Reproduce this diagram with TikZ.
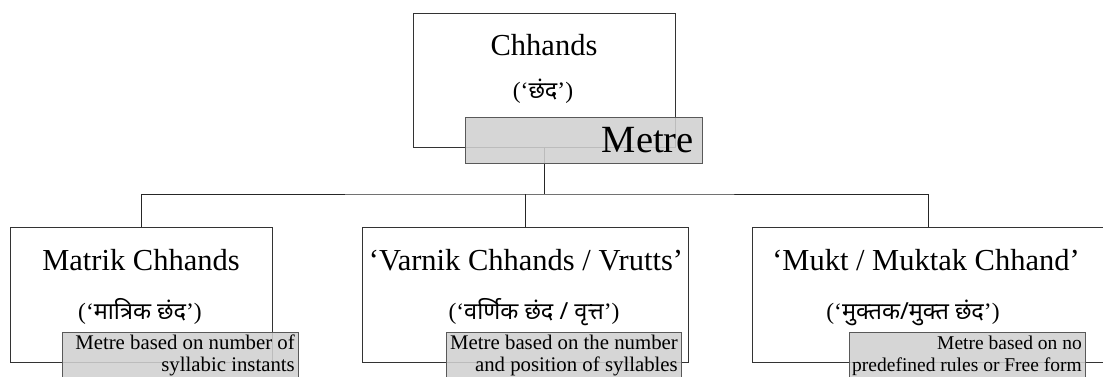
\documentclass[tikz,border=0pt]{standalone}
\usepackage{fontspec}
\setmainfont{Liberation Serif}
\newfontfamily\deva[Script=Devanagari]{Noto Sans}
\begin{document}
\begin{tikzpicture}[x=1pt,y=-1pt,
  box/.style={draw=black!80, line width=0.9pt, fill=none, inner sep=0pt, outer sep=0pt},
  callout/.style={draw=black!65, line width=0.9pt, fill={rgb,255:red,208;green,208;blue,208}, fill opacity=0.88, inner sep=0pt, outer sep=0pt},
  conn/.style={draw=black!85, line width=0.9pt},
  big/.style={inner sep=0pt, anchor=base, font=\fontsize{30.5}{30.5}\selectfont},
  hin/.style={inner sep=0pt, anchor=base, font=\fontsize{23.5}{23.5}\selectfont},
  note/.style={inner sep=0pt, anchor=base east, font=\fontsize{20.8}{20.8}\selectfont},
  smallnote/.style={inner sep=0pt, anchor=base east, font=\fontsize{19.5}{19.5}\selectfont}]
\useasboundingbox (0,0) rectangle (1103,376);
% boxes
\node[box, minimum width=262pt, minimum height=134pt] (top) at (544,80) {};
\node[box, minimum width=262pt, minimum height=135pt] (b1) at (141,294.5) {};
\node[box, minimum width=326pt, minimum height=135pt] (b2) at (525,294.5) {};
\node[box, minimum width=352pt, minimum height=135pt] (b3) at (928,294.5) {};
% connectors
\draw[conn] (top.south) -- ++(0,47) coordinate (j);
\draw[conn] (b1.north) |- (j) -| (b3.north);
\draw[conn] (j -| b2.north) -- (b2.north);
% texts in boxes
\node[big] (t0) at (544,55) {Chhands};
\node[hin] (h0) at (543,98) {(‘{\deva छंद}’)};
\node[big] (t1) at (141,270) {Matrik Chhands};
\node[hin] (h1) at (140,319) {(‘{\deva मात्रिक छंद}’)};
\node[big] (t2) at (526,270) {‘Varnik Chhands / Vrutts’};
\node[hin] (h2) at (534,319) {(‘{\deva वर्णिक छंद / वृत्त}’)};
\node[big] (t3) at (926,270) {‘Mukt / Muktak Chhand’};
\node[hin] (h3) at (913,319) {(‘{\deva मुक्तक/मुक्त छंद}’)};
% callouts
\node[callout, minimum width=237pt, minimum height=46pt] (metre) at (583.5,140) {};
\node[inner sep=0pt, anchor=base east, font=\fontsize{38.5}{38.5}\selectfont] (mt) at (694,152) {Metre};
\node[callout, minimum width=236pt, minimum height=60pt] (c1) at (180,362) {};
\node[callout, minimum width=235pt, minimum height=60pt] (c2) at (563.5,362) {};
\node[callout, minimum width=236pt, minimum height=60pt] (c3) at (967,362) {};
\node[note] (n1a) at (295,349) {Metre based on number of};
\node[note] (n1b) at (295,371) {syllabic instants};
\node[note] (n2a) at (678,349) {Metre based on the number};
\node[note] (n2b) at (678,371) {and position of syllables};
\node[smallnote] (n3a) at (1082,349) {Metre based on no};
\node[smallnote] (n3b) at (1082,371) {predefined rules or Free form};
\end{tikzpicture}
\end{document}
